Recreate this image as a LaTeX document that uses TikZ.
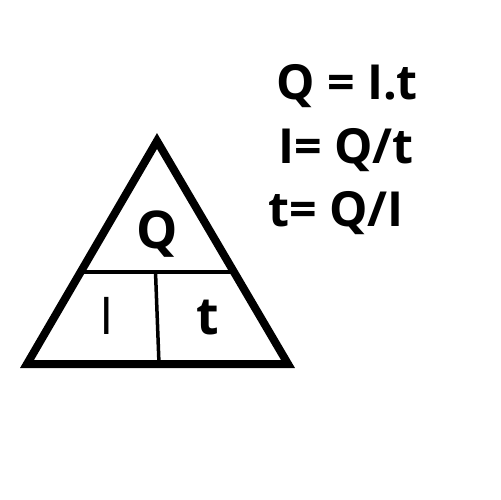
\documentclass[tikz,border=0pt]{standalone}
\usepackage{fontspec}
\setmainfont{Open Sans}
\usetikzlibrary{positioning}

\begin{document}
\begin{tikzpicture}[
  x=0.02cm, y=-0.02cm,
  outline/.style={draw=black, line width=0.16cm, line join=miter},
  divider/.style={draw=black, line width=0.07cm},
  cell/.style={anchor=base, inner sep=0pt, font=\fontsize{29.6}{34}\selectfont\bfseries},
  thincell/.style={anchor=base, inner sep=0pt, font=\fontsize{29.6}{34}\selectfont},
  formula/.style={anchor=base, inner sep=0pt, font=\fontsize{27.5}{32}\selectfont\bfseries}
]
\useasboundingbox (0,0) rectangle (500,500);

% triangle
\coordinate (apex) at (157,141);
\coordinate (left) at (27,364);
\coordinate (right) at (288,364);
\coordinate (midl) at (80,272);
\coordinate (midr) at (234,272);
\coordinate (splittop) at (155.5,272);
\coordinate (splitbot) at (159,364);
\draw[outline] (apex) -- (left) -- (right) -- cycle;
\draw[divider] (midl) -- (midr);
\draw[divider] (splittop) -- (splitbot);

\node[cell] (charge) at (157,248) {Q};
\node[thincell] (current) at (107,334) {I};
\node[cell] (time) at (208,334) {t};

% formulas
\node[formula] (eqq) at (347,100) {Q = I.t};
\node[formula] (eqi) at (346,163) {I= Q/t};
\node[formula] (eqt) at (336,226) {t= Q/I};
\end{tikzpicture}
\end{document}
